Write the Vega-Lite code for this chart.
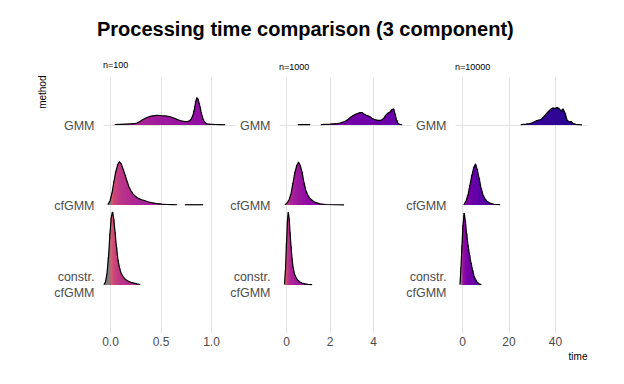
{
  "$schema": "https://vega.github.io/schema/vega-lite/v6.json",
  "autosize": {"type": "pad"},
  "padding": {"left": 37, "top": 20, "right": 5, "bottom": 5},
  "background": "white",
  "title": {"text": "Processing time comparison (3 component)", "font": "Liberation Sans", "fontSize": 20, "fontWeight": "bold", "anchor": "start", "frame": "group", "dx": -6, "offset": 21, "color": "#000000"},
  "datasets": {
    "dens": [
      {"n":"n=100","method":"GMM","time":0.050,"density":0.006},
      {"n":"n=100","method":"GMM","time":0.099,"density":0.008},
      {"n":"n=100","method":"GMM","time":0.149,"density":0.010},
      {"n":"n=100","method":"GMM","time":0.198,"density":0.013},
      {"n":"n=100","method":"GMM","time":0.238,"density":0.016},
      {"n":"n=100","method":"GMM","time":0.267,"density":0.025},
      {"n":"n=100","method":"GMM","time":0.287,"density":0.038},
      {"n":"n=100","method":"GMM","time":0.307,"density":0.053},
      {"n":"n=100","method":"GMM","time":0.327,"density":0.069},
      {"n":"n=100","method":"GMM","time":0.347,"density":0.081},
      {"n":"n=100","method":"GMM","time":0.366,"density":0.094},
      {"n":"n=100","method":"GMM","time":0.386,"density":0.103},
      {"n":"n=100","method":"GMM","time":0.406,"density":0.110},
      {"n":"n=100","method":"GMM","time":0.426,"density":0.115},
      {"n":"n=100","method":"GMM","time":0.446,"density":0.119},
      {"n":"n=100","method":"GMM","time":0.465,"density":0.120},
      {"n":"n=100","method":"GMM","time":0.485,"density":0.119},
      {"n":"n=100","method":"GMM","time":0.505,"density":0.116},
      {"n":"n=100","method":"GMM","time":0.525,"density":0.114},
      {"n":"n=100","method":"GMM","time":0.545,"density":0.113},
      {"n":"n=100","method":"GMM","time":0.564,"density":0.110},
      {"n":"n=100","method":"GMM","time":0.584,"density":0.106},
      {"n":"n=100","method":"GMM","time":0.604,"density":0.100},
      {"n":"n=100","method":"GMM","time":0.624,"density":0.091},
      {"n":"n=100","method":"GMM","time":0.644,"density":0.081},
      {"n":"n=100","method":"GMM","time":0.663,"density":0.070},
      {"n":"n=100","method":"GMM","time":0.683,"density":0.060},
      {"n":"n=100","method":"GMM","time":0.703,"density":0.053},
      {"n":"n=100","method":"GMM","time":0.723,"density":0.048},
      {"n":"n=100","method":"GMM","time":0.743,"density":0.044},
      {"n":"n=100","method":"GMM","time":0.762,"density":0.043},
      {"n":"n=100","method":"GMM","time":0.782,"density":0.048},
      {"n":"n=100","method":"GMM","time":0.802,"density":0.069},
      {"n":"n=100","method":"GMM","time":0.812,"density":0.094},
      {"n":"n=100","method":"GMM","time":0.822,"density":0.125},
      {"n":"n=100","method":"GMM","time":0.832,"density":0.175},
      {"n":"n=100","method":"GMM","time":0.842,"density":0.238},
      {"n":"n=100","method":"GMM","time":0.851,"density":0.300},
      {"n":"n=100","method":"GMM","time":0.861,"density":0.338},
      {"n":"n=100","method":"GMM","time":0.871,"density":0.325},
      {"n":"n=100","method":"GMM","time":0.881,"density":0.275},
      {"n":"n=100","method":"GMM","time":0.891,"density":0.225},
      {"n":"n=100","method":"GMM","time":0.901,"density":0.163},
      {"n":"n=100","method":"GMM","time":0.911,"density":0.115},
      {"n":"n=100","method":"GMM","time":0.921,"density":0.075},
      {"n":"n=100","method":"GMM","time":0.931,"density":0.050},
      {"n":"n=100","method":"GMM","time":0.941,"density":0.031},
      {"n":"n=100","method":"GMM","time":0.960,"density":0.015},
      {"n":"n=100","method":"GMM","time":0.990,"density":0.010},
      {"n":"n=100","method":"GMM","time":1.040,"density":0.006},
      {"n":"n=100","method":"GMM","time":1.089,"density":0.004},
      {"n":"n=100","method":"GMM","time":1.139,"density":0.003},

      {"n":"n=100","method":"cfGMM","time":-0.020,"density":0.006},
      {"n":"n=100","method":"cfGMM","time":0.000,"density":0.050},
      {"n":"n=100","method":"cfGMM","time":0.020,"density":0.150},
      {"n":"n=100","method":"cfGMM","time":0.040,"density":0.300},
      {"n":"n=100","method":"cfGMM","time":0.059,"density":0.425},
      {"n":"n=100","method":"cfGMM","time":0.079,"density":0.513},
      {"n":"n=100","method":"cfGMM","time":0.094,"density":0.538},
      {"n":"n=100","method":"cfGMM","time":0.109,"density":0.519},
      {"n":"n=100","method":"cfGMM","time":0.129,"density":0.450},
      {"n":"n=100","method":"cfGMM","time":0.149,"density":0.375},
      {"n":"n=100","method":"cfGMM","time":0.168,"density":0.300},
      {"n":"n=100","method":"cfGMM","time":0.188,"density":0.225},
      {"n":"n=100","method":"cfGMM","time":0.208,"density":0.175},
      {"n":"n=100","method":"cfGMM","time":0.228,"density":0.138},
      {"n":"n=100","method":"cfGMM","time":0.248,"density":0.113},
      {"n":"n=100","method":"cfGMM","time":0.267,"density":0.094},
      {"n":"n=100","method":"cfGMM","time":0.287,"density":0.079},
      {"n":"n=100","method":"cfGMM","time":0.307,"density":0.069},
      {"n":"n=100","method":"cfGMM","time":0.327,"density":0.060},
      {"n":"n=100","method":"cfGMM","time":0.347,"density":0.053},
      {"n":"n=100","method":"cfGMM","time":0.376,"density":0.041},
      {"n":"n=100","method":"cfGMM","time":0.406,"density":0.031},
      {"n":"n=100","method":"cfGMM","time":0.436,"density":0.024},
      {"n":"n=100","method":"cfGMM","time":0.475,"density":0.016},
      {"n":"n=100","method":"cfGMM","time":0.515,"density":0.010},
      {"n":"n=100","method":"cfGMM","time":0.564,"density":0.006},
      {"n":"n=100","method":"cfGMM","time":0.614,"density":0.004},
      {"n":"n=100","method":"cfGMM","time":0.663,"density":0.003},
      {"n":"n=100","method":"cfGMM","time":0.743,"density":0.003,"segment":"b"},
      {"n":"n=100","method":"cfGMM","time":0.832,"density":0.003,"segment":"b"},
      {"n":"n=100","method":"cfGMM","time":0.921,"density":0.003,"segment":"b"},

      {"n":"n=100","method":"constr. cfGMM","time":-0.059,"density":0.006},
      {"n":"n=100","method":"constr. cfGMM","time":-0.045,"density":0.038},
      {"n":"n=100","method":"constr. cfGMM","time":-0.030,"density":0.138},
      {"n":"n=100","method":"constr. cfGMM","time":-0.015,"density":0.350},
      {"n":"n=100","method":"constr. cfGMM","time":0.000,"density":0.650},
      {"n":"n=100","method":"constr. cfGMM","time":0.013,"density":0.850},
      {"n":"n=100","method":"constr. cfGMM","time":0.025,"density":0.913},
      {"n":"n=100","method":"constr. cfGMM","time":0.037,"density":0.825},
      {"n":"n=100","method":"constr. cfGMM","time":0.050,"density":0.663},
      {"n":"n=100","method":"constr. cfGMM","time":0.064,"density":0.475},
      {"n":"n=100","method":"constr. cfGMM","time":0.079,"density":0.313},
      {"n":"n=100","method":"constr. cfGMM","time":0.094,"density":0.213},
      {"n":"n=100","method":"constr. cfGMM","time":0.109,"density":0.150},
      {"n":"n=100","method":"constr. cfGMM","time":0.129,"density":0.106},
      {"n":"n=100","method":"constr. cfGMM","time":0.149,"density":0.075},
      {"n":"n=100","method":"constr. cfGMM","time":0.168,"density":0.056},
      {"n":"n=100","method":"constr. cfGMM","time":0.188,"density":0.043},
      {"n":"n=100","method":"constr. cfGMM","time":0.208,"density":0.033},
      {"n":"n=100","method":"constr. cfGMM","time":0.238,"density":0.023},
      {"n":"n=100","method":"constr. cfGMM","time":0.267,"density":0.014},
      {"n":"n=100","method":"constr. cfGMM","time":0.297,"density":0.006},

      {"n":"n=1000","method":"GMM","time":0.552,"density":0.004,"segment":"a"},
      {"n":"n=1000","method":"GMM","time":0.828,"density":0.005,"segment":"a"},
      {"n":"n=1000","method":"GMM","time":1.103,"density":0.004,"segment":"a"},
      {"n":"n=1000","method":"GMM","time":1.609,"density":0.004},
      {"n":"n=1000","method":"GMM","time":2.023,"density":0.010},
      {"n":"n=1000","method":"GMM","time":2.299,"density":0.016},
      {"n":"n=1000","method":"GMM","time":2.483,"density":0.025},
      {"n":"n=1000","method":"GMM","time":2.575,"density":0.033},
      {"n":"n=1000","method":"GMM","time":2.667,"density":0.041},
      {"n":"n=1000","method":"GMM","time":2.759,"density":0.053},
      {"n":"n=1000","method":"GMM","time":2.851,"density":0.069},
      {"n":"n=1000","method":"GMM","time":2.943,"density":0.090},
      {"n":"n=1000","method":"GMM","time":3.034,"density":0.110},
      {"n":"n=1000","method":"GMM","time":3.126,"density":0.125},
      {"n":"n=1000","method":"GMM","time":3.218,"density":0.138},
      {"n":"n=1000","method":"GMM","time":3.310,"density":0.146},
      {"n":"n=1000","method":"GMM","time":3.402,"density":0.156},
      {"n":"n=1000","method":"GMM","time":3.494,"density":0.154},
      {"n":"n=1000","method":"GMM","time":3.586,"density":0.138},
      {"n":"n=1000","method":"GMM","time":3.678,"density":0.125},
      {"n":"n=1000","method":"GMM","time":3.770,"density":0.116},
      {"n":"n=1000","method":"GMM","time":3.862,"density":0.103},
      {"n":"n=1000","method":"GMM","time":3.954,"density":0.085},
      {"n":"n=1000","method":"GMM","time":4.046,"density":0.071},
      {"n":"n=1000","method":"GMM","time":4.138,"density":0.063},
      {"n":"n=1000","method":"GMM","time":4.230,"density":0.058},
      {"n":"n=1000","method":"GMM","time":4.322,"density":0.058},
      {"n":"n=1000","method":"GMM","time":4.414,"density":0.065},
      {"n":"n=1000","method":"GMM","time":4.506,"density":0.088},
      {"n":"n=1000","method":"GMM","time":4.598,"density":0.125},
      {"n":"n=1000","method":"GMM","time":4.690,"density":0.150},
      {"n":"n=1000","method":"GMM","time":4.782,"density":0.163},
      {"n":"n=1000","method":"GMM","time":4.874,"density":0.194},
      {"n":"n=1000","method":"GMM","time":4.943,"density":0.200},
      {"n":"n=1000","method":"GMM","time":5.012,"density":0.138},
      {"n":"n=1000","method":"GMM","time":5.081,"density":0.063},
      {"n":"n=1000","method":"GMM","time":5.150,"density":0.019},
      {"n":"n=1000","method":"GMM","time":5.242,"density":0.006},
      {"n":"n=1000","method":"GMM","time":5.334,"density":0.003},

      {"n":"n=1000","method":"cfGMM","time":-0.046,"density":0.004},
      {"n":"n=1000","method":"cfGMM","time":0.046,"density":0.025},
      {"n":"n=1000","method":"cfGMM","time":0.138,"density":0.063},
      {"n":"n=1000","method":"cfGMM","time":0.230,"density":0.138},
      {"n":"n=1000","method":"cfGMM","time":0.322,"density":0.275},
      {"n":"n=1000","method":"cfGMM","time":0.414,"density":0.413},
      {"n":"n=1000","method":"cfGMM","time":0.506,"density":0.500},
      {"n":"n=1000","method":"cfGMM","time":0.575,"density":0.531},
      {"n":"n=1000","method":"cfGMM","time":0.644,"density":0.500},
      {"n":"n=1000","method":"cfGMM","time":0.736,"density":0.413},
      {"n":"n=1000","method":"cfGMM","time":0.828,"density":0.275},
      {"n":"n=1000","method":"cfGMM","time":0.920,"density":0.175},
      {"n":"n=1000","method":"cfGMM","time":1.012,"density":0.119},
      {"n":"n=1000","method":"cfGMM","time":1.103,"density":0.081},
      {"n":"n=1000","method":"cfGMM","time":1.241,"density":0.050},
      {"n":"n=1000","method":"cfGMM","time":1.379,"density":0.029},
      {"n":"n=1000","method":"cfGMM","time":1.563,"density":0.015},
      {"n":"n=1000","method":"cfGMM","time":1.839,"density":0.006},
      {"n":"n=1000","method":"cfGMM","time":2.253,"density":0.003},
      {"n":"n=1000","method":"cfGMM","time":2.667,"density":0.001},

      {"n":"n=1000","method":"constr. cfGMM","time":-0.069,"density":0.013},
      {"n":"n=1000","method":"constr. cfGMM","time":-0.023,"density":0.188},
      {"n":"n=1000","method":"constr. cfGMM","time":0.023,"density":0.525},
      {"n":"n=1000","method":"constr. cfGMM","time":0.069,"density":0.813},
      {"n":"n=1000","method":"constr. cfGMM","time":0.106,"density":0.913},
      {"n":"n=1000","method":"constr. cfGMM","time":0.147,"density":0.825},
      {"n":"n=1000","method":"constr. cfGMM","time":0.184,"density":0.663},
      {"n":"n=1000","method":"constr. cfGMM","time":0.230,"density":0.488},
      {"n":"n=1000","method":"constr. cfGMM","time":0.276,"density":0.338},
      {"n":"n=1000","method":"constr. cfGMM","time":0.322,"density":0.225},
      {"n":"n=1000","method":"constr. cfGMM","time":0.391,"density":0.138},
      {"n":"n=1000","method":"constr. cfGMM","time":0.460,"density":0.094},
      {"n":"n=1000","method":"constr. cfGMM","time":0.552,"density":0.056},
      {"n":"n=1000","method":"constr. cfGMM","time":0.644,"density":0.038},
      {"n":"n=1000","method":"constr. cfGMM","time":0.736,"density":0.025},
      {"n":"n=1000","method":"constr. cfGMM","time":0.874,"density":0.015},
      {"n":"n=1000","method":"constr. cfGMM","time":1.012,"density":0.008},
      {"n":"n=1000","method":"constr. cfGMM","time":1.196,"density":0.004},

      {"n":"n=10000","method":"GMM","time":25.38,"density":0.004},
      {"n":"n=10000","method":"GMM","time":27.53,"density":0.010},
      {"n":"n=10000","method":"GMM","time":29.25,"density":0.019},
      {"n":"n=10000","method":"GMM","time":30.54,"density":0.031},
      {"n":"n=10000","method":"GMM","time":31.40,"density":0.044},
      {"n":"n=10000","method":"GMM","time":32.26,"density":0.056},
      {"n":"n=10000","method":"GMM","time":33.12,"density":0.063},
      {"n":"n=10000","method":"GMM","time":33.98,"density":0.069},
      {"n":"n=10000","method":"GMM","time":34.84,"density":0.094},
      {"n":"n=10000","method":"GMM","time":35.70,"density":0.119},
      {"n":"n=10000","method":"GMM","time":36.56,"density":0.150},
      {"n":"n=10000","method":"GMM","time":37.42,"density":0.175},
      {"n":"n=10000","method":"GMM","time":38.28,"density":0.200},
      {"n":"n=10000","method":"GMM","time":39.14,"density":0.213},
      {"n":"n=10000","method":"GMM","time":40.00,"density":0.206},
      {"n":"n=10000","method":"GMM","time":40.86,"density":0.219},
      {"n":"n=10000","method":"GMM","time":41.72,"density":0.206},
      {"n":"n=10000","method":"GMM","time":42.58,"density":0.175},
      {"n":"n=10000","method":"GMM","time":43.44,"density":0.200},
      {"n":"n=10000","method":"GMM","time":44.30,"density":0.150},
      {"n":"n=10000","method":"GMM","time":45.16,"density":0.063},
      {"n":"n=10000","method":"GMM","time":46.02,"density":0.038},
      {"n":"n=10000","method":"GMM","time":46.88,"density":0.044},
      {"n":"n=10000","method":"GMM","time":47.74,"density":0.019},
      {"n":"n=10000","method":"GMM","time":49.03,"density":0.008},
      {"n":"n=10000","method":"GMM","time":50.75,"density":0.003},
      {"n":"n=10000","method":"GMM","time":51.61,"density":0.001},

      {"n":"n=10000","method":"cfGMM","time":0.86,"density":0.006},
      {"n":"n=10000","method":"cfGMM","time":1.72,"density":0.050},
      {"n":"n=10000","method":"cfGMM","time":2.58,"density":0.125},
      {"n":"n=10000","method":"cfGMM","time":3.44,"density":0.250},
      {"n":"n=10000","method":"cfGMM","time":4.30,"density":0.375},
      {"n":"n=10000","method":"cfGMM","time":5.16,"density":0.475},
      {"n":"n=10000","method":"cfGMM","time":5.81,"density":0.506},
      {"n":"n=10000","method":"cfGMM","time":6.45,"density":0.450},
      {"n":"n=10000","method":"cfGMM","time":7.31,"density":0.338},
      {"n":"n=10000","method":"cfGMM","time":8.17,"density":0.213},
      {"n":"n=10000","method":"cfGMM","time":9.03,"density":0.125},
      {"n":"n=10000","method":"cfGMM","time":9.89,"density":0.075},
      {"n":"n=10000","method":"cfGMM","time":10.75,"density":0.048},
      {"n":"n=10000","method":"cfGMM","time":12.04,"density":0.023},
      {"n":"n=10000","method":"cfGMM","time":13.76,"density":0.009},
      {"n":"n=10000","method":"cfGMM","time":16.34,"density":0.003},

      {"n":"n=10000","method":"constr. cfGMM","time":-0.86,"density":0.013},
      {"n":"n=10000","method":"constr. cfGMM","time":-0.43,"density":0.225},
      {"n":"n=10000","method":"constr. cfGMM","time":0.00,"density":0.500},
      {"n":"n=10000","method":"constr. cfGMM","time":0.43,"density":0.750},
      {"n":"n=10000","method":"constr. cfGMM","time":0.95,"density":0.900},
      {"n":"n=10000","method":"constr. cfGMM","time":1.42,"density":0.800},
      {"n":"n=10000","method":"constr. cfGMM","time":1.94,"density":0.650},
      {"n":"n=10000","method":"constr. cfGMM","time":2.58,"density":0.500},
      {"n":"n=10000","method":"constr. cfGMM","time":3.23,"density":0.375},
      {"n":"n=10000","method":"constr. cfGMM","time":3.87,"density":0.275},
      {"n":"n=10000","method":"constr. cfGMM","time":4.52,"density":0.188},
      {"n":"n=10000","method":"constr. cfGMM","time":5.16,"density":0.113},
      {"n":"n=10000","method":"constr. cfGMM","time":5.81,"density":0.069},
      {"n":"n=10000","method":"constr. cfGMM","time":6.45,"density":0.038},
      {"n":"n=10000","method":"constr. cfGMM","time":7.31,"density":0.015},
      {"n":"n=10000","method":"constr. cfGMM","time":8.17,"density":0.005}
    ]
  },
  "data": {"name": "dens"},
  "spacing": 44,
  "bounds": "flush",
  "hconcat": [
    {
      "width": 132, "height": 256,
      "title": {"text": "n=100", "anchor": "start", "frame": "group", "baseline": "bottom", "offset": -4},
      "transform": [{"filter": "datum.n == 'n=100'"}],
      "encoding": {"x": {"field": "time", "type": "quantitative", "scale": {"domain": [-0.0693, 1.2376], "nice": false, "zero": false}, "axis": {"values": [0, 0.5, 1], "format": ".1f", "title": null}}},
      "layer": [
        {"transform": [{"filter": "datum.method == 'GMM'"}, {"joinaggregate": [{"op": "mean", "field": "time", "as": "mean_time"}]}],
         "encoding": {"y": {"field": "density", "type": "quantitative", "scale": {"domain": [-2.6, 0.6], "nice": false, "zero": false}, "axis": {"orient": "left", "values": [0], "labelExpr": "'GMM'", "title": "method", "titleX": -61, "titleY": -2, "titleAngle": 270, "titleAlign": "right", "titleBaseline": "middle"}}},
         "layer": [
           {"mark": {"type": "area"}, "encoding": {"y2": {"datum": 0}, "detail": {"field": "segment"}, "color": {"field": "mean_time", "type": "quantitative", "scale": {"type": "log", "domain": [0.00002, 100], "scheme": "plasma", "reverse": true}, "legend": null}}},
           {"mark": {"type": "rule", "strokeWidth": 2.2}, "encoding": {"y2": {"datum": 0}, "color": {"condition": {"test": "datum.time <= 0", "value": "#7f7f7f"}, "field": "time", "type": "quantitative", "scale": {"type": "log", "domain": [0.00002, 100], "scheme": "plasma", "reverse": true}, "legend": null}}},
           {"mark": {"type": "line", "color": "#000000", "strokeWidth": 1.2}, "encoding": {"detail": {"field": "segment"}}}
         ]},
        {"transform": [{"filter": "datum.method == 'cfGMM'"}, {"joinaggregate": [{"op": "mean", "field": "time", "as": "mean_time"}]}],
         "encoding": {"y": {"field": "density", "type": "quantitative", "scale": {"domain": [-1.6, 1.6], "nice": false, "zero": false}, "axis": {"orient": "left", "values": [0], "labelExpr": "'cfGMM'", "title": null}}},
         "layer": [
           {"mark": {"type": "area"}, "encoding": {"y2": {"datum": 0}, "detail": {"field": "segment"}, "color": {"field": "mean_time", "type": "quantitative", "scale": {"type": "log", "domain": [0.00002, 100], "scheme": "plasma", "reverse": true}, "legend": null}}},
           {"mark": {"type": "rule", "strokeWidth": 2.2}, "encoding": {"y2": {"datum": 0}, "color": {"condition": {"test": "datum.time <= 0", "value": "#7f7f7f"}, "field": "time", "type": "quantitative", "scale": {"type": "log", "domain": [0.00002, 100], "scheme": "plasma", "reverse": true}, "legend": null}}},
           {"mark": {"type": "line", "color": "#000000", "strokeWidth": 1.2}, "encoding": {"detail": {"field": "segment"}}}
         ]},
        {"transform": [{"filter": "datum.method == 'constr. cfGMM'"}, {"joinaggregate": [{"op": "mean", "field": "time", "as": "mean_time"}]}],
         "encoding": {"y": {"field": "density", "type": "quantitative", "scale": {"domain": [-0.6, 2.6], "nice": false, "zero": false}, "axis": {"orient": "left", "values": [0], "labelExpr": "['constr.', 'cfGMM']", "labelOffset": -9, "title": null}}},
         "layer": [
           {"mark": {"type": "area"}, "encoding": {"y2": {"datum": 0}, "detail": {"field": "segment"}, "color": {"field": "mean_time", "type": "quantitative", "scale": {"type": "log", "domain": [0.00002, 100], "scheme": "plasma", "reverse": true}, "legend": null}}},
           {"mark": {"type": "rule", "strokeWidth": 1.7}, "encoding": {"y2": {"datum": 0}, "color": {"condition": {"test": "datum.time <= 0", "value": "#7f7f7f"}, "field": "time", "type": "quantitative", "scale": {"type": "log", "domain": [0.00002, 100], "scheme": "plasma", "reverse": true}, "legend": null}}},
           {"mark": {"type": "line", "color": "#000000", "strokeWidth": 1.2}, "encoding": {"detail": {"field": "segment"}}}
         ]}
      ],
      "resolve": {"scale": {"y": "independent"}, "axis": {"y": "independent"}}
    },
    {
      "width": 132, "height": 256,
      "title": {"text": "n=1000", "anchor": "start", "frame": "group", "baseline": "bottom", "offset": -4},
      "transform": [{"filter": "datum.n == 'n=1000'"}],
      "encoding": {"x": {"field": "time", "type": "quantitative", "scale": {"domain": [-0.322, 5.747], "nice": false, "zero": false}, "axis": {"values": [0, 2, 4], "format": "d", "title": null}}},
      "layer": [
        {"transform": [{"filter": "datum.method == 'GMM'"}, {"joinaggregate": [{"op": "mean", "field": "time", "as": "mean_time"}]}],
         "encoding": {"y": {"field": "density", "type": "quantitative", "scale": {"domain": [-2.6, 0.6], "nice": false, "zero": false}, "axis": {"orient": "left", "values": [0], "labelExpr": "'GMM'", "title": null}}},
         "layer": [
           {"mark": {"type": "area"}, "encoding": {"y2": {"datum": 0}, "detail": {"field": "segment"}, "color": {"field": "mean_time", "type": "quantitative", "scale": {"type": "log", "domain": [0.00002, 100], "scheme": "plasma", "reverse": true}, "legend": null}}},
           {"mark": {"type": "rule", "strokeWidth": 2.2}, "encoding": {"y2": {"datum": 0}, "color": {"condition": {"test": "datum.time <= 0", "value": "#7f7f7f"}, "field": "time", "type": "quantitative", "scale": {"type": "log", "domain": [0.00002, 100], "scheme": "plasma", "reverse": true}, "legend": null}}},
           {"mark": {"type": "line", "color": "#000000", "strokeWidth": 1.2}, "encoding": {"detail": {"field": "segment"}}}
         ]},
        {"transform": [{"filter": "datum.method == 'cfGMM'"}, {"joinaggregate": [{"op": "mean", "field": "time", "as": "mean_time"}]}],
         "encoding": {"y": {"field": "density", "type": "quantitative", "scale": {"domain": [-1.6, 1.6], "nice": false, "zero": false}, "axis": {"orient": "left", "values": [0], "labelExpr": "'cfGMM'", "title": null}}},
         "layer": [
           {"mark": {"type": "area"}, "encoding": {"y2": {"datum": 0}, "detail": {"field": "segment"}, "color": {"field": "mean_time", "type": "quantitative", "scale": {"type": "log", "domain": [0.00002, 100], "scheme": "plasma", "reverse": true}, "legend": null}}},
           {"mark": {"type": "rule", "strokeWidth": 2.2}, "encoding": {"y2": {"datum": 0}, "color": {"condition": {"test": "datum.time <= 0", "value": "#7f7f7f"}, "field": "time", "type": "quantitative", "scale": {"type": "log", "domain": [0.00002, 100], "scheme": "plasma", "reverse": true}, "legend": null}}},
           {"mark": {"type": "line", "color": "#000000", "strokeWidth": 1.2}, "encoding": {"detail": {"field": "segment"}}}
         ]},
        {"transform": [{"filter": "datum.method == 'constr. cfGMM'"}, {"joinaggregate": [{"op": "mean", "field": "time", "as": "mean_time"}]}],
         "encoding": {"y": {"field": "density", "type": "quantitative", "scale": {"domain": [-0.6, 2.6], "nice": false, "zero": false}, "axis": {"orient": "left", "values": [0], "labelExpr": "['constr.', 'cfGMM']", "labelOffset": -9, "title": null}}},
         "layer": [
           {"mark": {"type": "area"}, "encoding": {"y2": {"datum": 0}, "detail": {"field": "segment"}, "color": {"field": "mean_time", "type": "quantitative", "scale": {"type": "log", "domain": [0.00002, 100], "scheme": "plasma", "reverse": true}, "legend": null}}},
           {"mark": {"type": "rule", "strokeWidth": 1.4}, "encoding": {"y2": {"datum": 0}, "color": {"condition": {"test": "datum.time <= 0", "value": "#7f7f7f"}, "field": "time", "type": "quantitative", "scale": {"type": "log", "domain": [0.00002, 100], "scheme": "plasma", "reverse": true}, "legend": null}}},
           {"mark": {"type": "line", "color": "#000000", "strokeWidth": 1.2}, "encoding": {"detail": {"field": "segment"}}}
         ]}
      ],
      "resolve": {"scale": {"y": "independent"}, "axis": {"y": "independent"}}
    },
    {
      "width": 132, "height": 256,
      "title": {"text": "n=10000", "anchor": "start", "frame": "group", "baseline": "bottom", "offset": -4},
      "transform": [{"filter": "datum.n == 'n=10000'"}],
      "encoding": {"x": {"field": "time", "type": "quantitative", "scale": {"domain": [-3.01, 53.76], "nice": false, "zero": false}, "axis": {"values": [0, 20, 40], "format": "d", "title": "time", "titleAnchor": "end", "titlePadding": 4}}},
      "layer": [
        {"transform": [{"filter": "datum.method == 'GMM'"}, {"joinaggregate": [{"op": "mean", "field": "time", "as": "mean_time"}]}],
         "encoding": {"y": {"field": "density", "type": "quantitative", "scale": {"domain": [-2.6, 0.6], "nice": false, "zero": false}, "axis": {"orient": "left", "values": [0], "labelExpr": "'GMM'", "title": null}}},
         "layer": [
           {"mark": {"type": "area"}, "encoding": {"y2": {"datum": 0}, "detail": {"field": "segment"}, "color": {"field": "mean_time", "type": "quantitative", "scale": {"type": "log", "domain": [0.00002, 100], "scheme": "plasma", "reverse": true}, "legend": null}}},
           {"mark": {"type": "rule", "strokeWidth": 2.2}, "encoding": {"y2": {"datum": 0}, "color": {"condition": {"test": "datum.time <= 0", "value": "#7f7f7f"}, "field": "time", "type": "quantitative", "scale": {"type": "log", "domain": [0.00002, 100], "scheme": "plasma", "reverse": true}, "legend": null}}},
           {"mark": {"type": "line", "color": "#000000", "strokeWidth": 1.2}, "encoding": {"detail": {"field": "segment"}}}
         ]},
        {"transform": [{"filter": "datum.method == 'cfGMM'"}, {"joinaggregate": [{"op": "mean", "field": "time", "as": "mean_time"}]}],
         "encoding": {"y": {"field": "density", "type": "quantitative", "scale": {"domain": [-1.6, 1.6], "nice": false, "zero": false}, "axis": {"orient": "left", "values": [0], "labelExpr": "'cfGMM'", "title": null}}},
         "layer": [
           {"mark": {"type": "area"}, "encoding": {"y2": {"datum": 0}, "detail": {"field": "segment"}, "color": {"field": "mean_time", "type": "quantitative", "scale": {"type": "log", "domain": [0.00002, 100], "scheme": "plasma", "reverse": true}, "legend": null}}},
           {"mark": {"type": "rule", "strokeWidth": 2.2}, "encoding": {"y2": {"datum": 0}, "color": {"condition": {"test": "datum.time <= 0", "value": "#7f7f7f"}, "field": "time", "type": "quantitative", "scale": {"type": "log", "domain": [0.00002, 100], "scheme": "plasma", "reverse": true}, "legend": null}}},
           {"mark": {"type": "line", "color": "#000000", "strokeWidth": 1.2}, "encoding": {"detail": {"field": "segment"}}}
         ]},
        {"transform": [{"filter": "datum.method == 'constr. cfGMM'"}, {"joinaggregate": [{"op": "mean", "field": "time", "as": "mean_time"}]}],
         "encoding": {"y": {"field": "density", "type": "quantitative", "scale": {"domain": [-0.6, 2.6], "nice": false, "zero": false}, "axis": {"orient": "left", "values": [0], "labelExpr": "['constr.', 'cfGMM']", "labelOffset": -9, "title": null}}},
         "layer": [
           {"mark": {"type": "area"}, "encoding": {"y2": {"datum": 0}, "detail": {"field": "segment"}, "color": {"field": "mean_time", "type": "quantitative", "scale": {"type": "log", "domain": [0.00002, 100], "scheme": "plasma", "reverse": true}, "legend": null}}},
           {"mark": {"type": "rule", "strokeWidth": 1.7}, "encoding": {"y2": {"datum": 0}, "color": {"condition": {"test": "datum.time <= 0", "value": "#7f7f7f"}, "field": "time", "type": "quantitative", "scale": {"type": "log", "domain": [0.00002, 100], "scheme": "plasma", "reverse": true}, "legend": null}}},
           {"mark": {"type": "line", "color": "#000000", "strokeWidth": 1.2}, "encoding": {"detail": {"field": "segment"}}}
         ]}
      ],
      "resolve": {"scale": {"y": "independent"}, "axis": {"y": "independent"}}
    }
  ],
  "config": {
    "font": "Liberation Sans",
    "view": {"stroke": null},
    "axis": {"domain": false, "ticks": false, "grid": true, "gridColor": "#e3e3e3", "gridWidth": 1, "labelColor": "#4d4d4d", "titleColor": "#000000", "titleFontWeight": "normal", "titleFontSize": 10},
    "axisX": {"labelFontSize": 12, "labelPadding": 3, "labelFlush": false},
    "axisY": {"labelFontSize": 12.5, "labelPadding": 9, "labelLineHeight": 16, "labelBaseline": "middle"},
    "style": {"group-title": {"fontSize": 9, "fontWeight": "normal", "color": "#1a1a1a"}}
  }
}
